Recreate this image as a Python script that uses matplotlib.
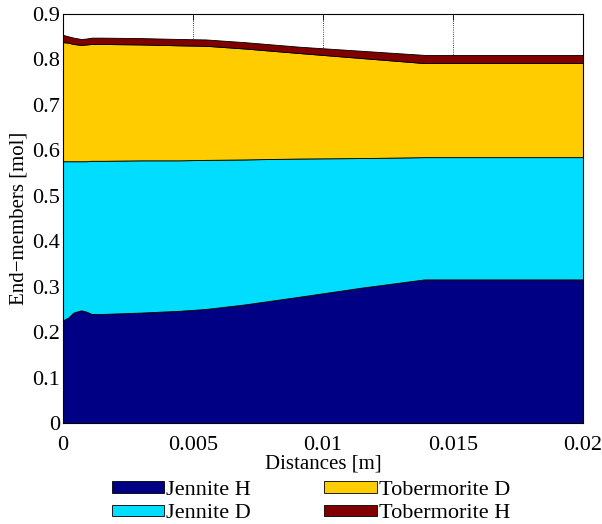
import matplotlib
matplotlib.use('Agg')
from matplotlib import pyplot as plt

plt.rcParams['font.family'] = ['Liberation Serif', 'DejaVu Serif']
plt.rcParams['font.size'] = 15

# distance along the sample [m]
distance = [0, 0.0002, 0.0004, 0.0007, 0.0009, 0.0011, 0.0015, 0.003,
            0.0045, 0.0055, 0.007, 0.0091, 0.0115, 0.0139, 0.02]

# end-member amounts [mol], stacked bottom to top
jennite_h = [0.226, 0.232, 0.243, 0.248, 0.245, 0.240, 0.240, 0.243,
             0.247, 0.251, 0.261, 0.278, 0.298, 0.316, 0.316]
jennite_d = [0.350, 0.344, 0.333, 0.328, 0.331, 0.337, 0.337, 0.335,
             0.331, 0.328, 0.319, 0.304, 0.285, 0.269, 0.269]
tobermorite_d = [0.262, 0.261, 0.258, 0.256, 0.257, 0.257, 0.257, 0.255,
                 0.253, 0.251, 0.244, 0.232, 0.220, 0.207, 0.207]
tobermorite_h = [0.016, 0.014, 0.014, 0.013, 0.013, 0.014, 0.014, 0.014,
                 0.014, 0.014, 0.014, 0.014, 0.016, 0.018, 0.018]

names = ['Jennite H', 'Jennite D', 'Tobermorite D', 'Tobermorite H']
colors = ['#000085', '#00DDFF', '#FFCC00', '#800000']

xticks = [0, 0.005, 0.01, 0.015, 0.02]
xticklabels = ['0', '0.005', '0.01', '0.015', '0.02']
yticks = [0, 0.1, 0.2, 0.3, 0.4, 0.5, 0.6, 0.7, 0.8, 0.9]
yticklabels = ['0', '0.1', '0.2', '0.3', '0.4', '0.5', '0.6', '0.7', '0.8', '0.9']

fig = plt.figure(figsize=(6.02, 5.24), dpi=100)
ax = fig.add_axes([63/602, 1 - 423/524, 520/602, 409/524])

polys = ax.stackplot(distance, jennite_h, jennite_d, tobermorite_d, tobermorite_h,
                     colors=colors, labels=names, edgecolor='k', linewidth=0.6)

ax.set_xlim(0, 0.02)
ax.set_ylim(0, 0.9)
ax.set_xticks(xticks)
ax.set_xticklabels(xticklabels, fontsize=16)
ax.set_yticks(yticks)
ax.set_yticklabels(yticklabels, fontsize=16)
ax.tick_params(direction='in', top=True, right=True, length=4, width=0.6)
ax.tick_params(axis='x', pad=9)
ax.tick_params(axis='y', pad=2)
ax.set_axisbelow(True)
ax.grid(True, linestyle=':', color='k', linewidth=0.6)
for sp in ax.spines.values():
    sp.set_linewidth(0.8)

ax.set_xlabel('Distances [m]', labelpad=0)
ax.set_ylabel('End\u2212members [mol]', labelpad=3)

fig.legend(handles=polys, labels=names, ncol=2, loc='center',
           bbox_to_anchor=(311/602, 1 - 502/524), frameon=False,
           fontsize=16, handlelength=2.35, handleheight=0.42,
           handletextpad=0.1, columnspacing=3.3, labelspacing=0.2,
           borderpad=0)

plt.savefig('out.png', dpi=100)
